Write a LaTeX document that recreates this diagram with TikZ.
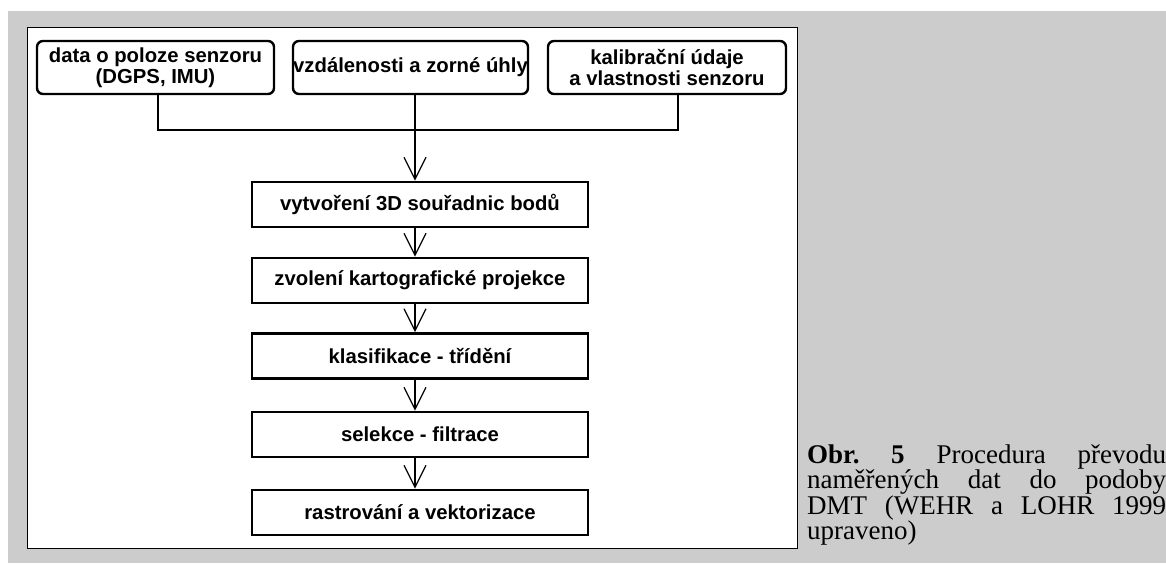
\documentclass[tikz,border=0pt]{standalone}
\usepackage{fontspec}
\setmainfont{Liberation Serif}
\newfontfamily\boxfont{Liberation Sans}
\usetikzlibrary{arrows.meta}
\definecolor{bggray}{RGB}{204,204,204}
\tikzset{
  topbox/.style={draw=black, line width=2.4pt, rounded corners=6pt, fill=white,
    inner sep=0pt, align=center, minimum height=53pt,
    font=\boxfont\bfseries\fontsize{20.3}{21}\selectfont},
  flowbox/.style={draw=black, line width=2.6pt, fill=white, inner sep=0pt,
    minimum width=336pt, minimum height=45pt, align=center,
    font=\boxfont\bfseries\fontsize{20.3}{21}\selectfont},
  conn/.style={draw=black, line width=1.3pt},
  arr/.style={conn, -{Straight Barb[length=22pt, width=22pt, line width=1.3pt]}},
}
\begin{document}
\begin{tikzpicture}[x=1pt, y=-1pt]
\useasboundingbox (0,0) rectangle (1166,563);
\fill[white] (0,0) rectangle (1166,563);
\fill[bggray] (8,11) rectangle (1166,563);
\draw[black, line width=1pt, fill=white] (27,27) rectangle (797,548);

\node[topbox, minimum width=237pt] (b1) at (155.5,67.5) {data o poloze senzoru\\(DGPS, IMU)};
\node[topbox, minimum width=235pt] (b2) at (410.5,67.5) {vzdálenosti a zorné úhly};
\node[topbox, minimum width=238pt] (b3) at (667,67.5) {kalibrační údaje\\a vlastnosti senzoru};

\node[flowbox] (f1) at (420,204.5) {vytvoření 3D souřadnic bodů};
\node[flowbox] (f2) at (420,280.5) {zvolení kartografické projekce};
\node[flowbox] (f3) at (420,356) {klasifikace - třídění};
\node[flowbox] (f4) at (420,434.5) {selekce - filtrace};
\node[flowbox] (f5) at (420,512.5) {rastrování a vektorizace};

\coordinate (jl) at (158,130);
\coordinate (j) at (415,130);
\coordinate (jr) at (678,130);
\draw[conn] (b1.south -| jl) -- (jl) -- (jr) -- (b3.south -| jr);
\draw[arr] (b2.south -| j) -- (f1.north -| j);
\draw[arr] (f1.south -| j) -- (f2.north -| j);
\draw[arr] (f2.south -| j) -- (f3.north -| j);
\draw[arr] (f3.south -| j) -- (f4.north -| j);
\draw[arr] (f4.south -| j) -- (f5.north -| j);

\node[anchor=base west, inner sep=0pt, text width=359pt, align=justify,
  font=\fontsize{27}{21.8}\selectfont] (cap) at (807,463)
  {\tolerance=10000 \textbf{Obr.~5} Procedura převodu\linebreak naměřených dat do podoby\linebreak DMT (WEHR a LOHR 1999\linebreak upraveno)};
\end{tikzpicture}
\end{document}
